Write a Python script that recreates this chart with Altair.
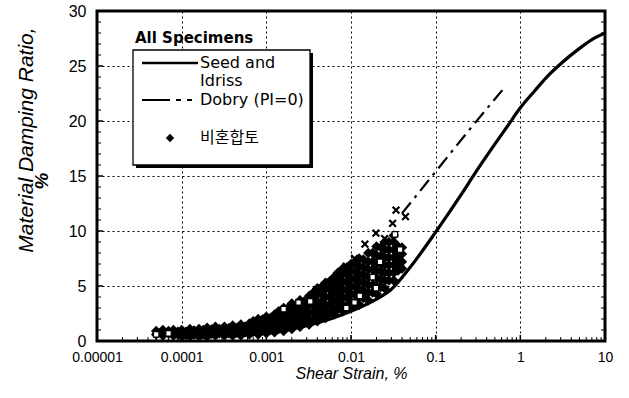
import altair as alt
import pandas as pd

# Seed and Idriss reference curve (shear strain %, damping %)
seed_x = [0.0001, 0.0003, 0.001, 0.003, 0.01, 0.02, 0.03, 0.05, 0.1, 0.2, 0.3, 0.5, 0.7,
          1, 1.5, 2, 3, 5, 7, 10]
seed_y = [0.35, 0.5, 0.8, 1.4, 2.7, 3.8, 4.7, 6.7, 9.9, 13.3, 15.4, 17.9, 19.5,
          21.2, 22.8, 23.9, 25.2, 26.6, 27.4, 28.0]

# Dobry (PI=0) curve
dobry_x = [0.04, 0.1, 0.25, 0.66]
dobry_y = [11.6, 15.4, 19.2, 23.1]

# Test results (filled diamonds): strain column -> damping readings
dia_cols = {
    0.00005: [0.6, 0.9],
    0.000056: [0.75],
    0.00006: [0.5, 0.8, 1.0],
    0.00007: [0.65, 0.9],
    0.00008: [0.5, 0.8, 1.0],
    0.00009: [0.6, 0.85],
    0.0001: [0.4, 0.7, 1.0],
    0.000112: [0.55, 0.85],
    0.000125: [0.4, 0.7, 1.1],
    0.00014: [0.6, 0.95],
    0.00016: [0.4, 0.8, 1.1],
    0.00018: [0.6, 1.0],
    0.0002: [0.4, 0.8, 1.2],
    0.000225: [0.65, 1.05],
    0.00025: [0.5, 0.9, 1.3],
    0.00028: [0.7, 1.1],
    0.00032: [0.5, 0.9, 1.3],
    0.00036: [0.7, 1.15],
    0.0004: [0.5, 0.9, 1.4],
    0.00045: [0.75, 1.2],
    0.0005: [0.5, 1.0, 1.5],
    0.00056: [0.8, 1.3],
    0.00063: [0.6, 1.1, 1.6],
    0.0007: [0.85, 1.35, 1.8],
    0.0008: [0.6, 1.1, 1.6, 2.0],
    0.0009: [0.95, 1.45, 1.95],
    0.001: [0.7, 1.2, 1.7, 2.2],
    0.00112: [1.0, 1.55, 2.1],
    0.00125: [0.8, 1.3, 1.8, 2.4],
    0.0014: [1.1, 1.65, 2.2, 2.7],
    0.0016: [0.9, 1.4, 2.0, 2.6, 3.0],
    0.0018: [1.3, 1.85, 2.4, 3.0],
    0.002: [1.1, 1.6, 2.2, 2.8, 3.4],
    0.00225: [1.5, 2.0, 2.6, 3.2],
    0.0025: [1.3, 1.8, 2.4, 3.0, 3.7],
    0.0028: [1.7, 2.3, 2.9, 3.6],
    0.0032: [1.5, 2.0, 2.6, 3.3, 4.1],
    0.0036: [1.9, 2.6, 3.2, 3.9, 4.4],
    0.004: [1.8, 2.4, 3.0, 3.6, 4.3, 4.8],
    0.0045: [2.2, 2.9, 3.5, 4.2, 4.9],
    0.005: [2.1, 2.7, 3.3, 4.0, 4.7, 5.3],
    0.0056: [2.6, 3.3, 4.0, 4.7, 5.4],
    0.0063: [2.4, 3.0, 3.7, 4.4, 5.1, 5.8],
    0.007: [2.9, 3.6, 4.3, 5.0, 5.7, 6.2],
    0.008: [2.7, 3.3, 4.0, 4.7, 5.4, 6.2, 6.6],
    0.009: [3.2, 3.9, 4.6, 5.3, 6.0, 6.7],
    0.01: [3.0, 3.6, 4.3, 5.0, 5.7, 6.4, 7.0],
    0.0112: [3.5, 4.2, 4.9, 5.6, 6.3, 7.0],
    0.0125: [3.3, 4.0, 4.7, 5.4, 6.1, 6.8, 7.5],
    0.014: [3.9, 4.6, 5.3, 6.0, 6.7, 7.4],
    0.016: [3.7, 4.4, 5.1, 5.8, 6.5, 7.2, 8.0],
    0.018: [4.4, 5.1, 5.8, 6.5, 7.2, 8.0],
    0.02: [4.3, 5.0, 5.7, 6.4, 7.1, 7.8, 8.6],
    0.0225: [4.9, 5.6, 6.3, 7.0, 7.7, 8.5],
    0.025: [4.8, 5.5, 6.2, 6.9, 7.6, 8.3, 9.0],
    0.028: [5.5, 6.2, 6.9, 7.6, 8.3, 9.0],
    0.032: [5.5, 6.2, 6.9, 7.6, 8.3, 9.0, 9.6],
    0.036: [6.4, 7.1, 7.8, 8.6],
    0.04: [6.6, 7.2, 7.9, 8.5],
}

# Upper outliers drawn as crosses
crs_x = [0.0058, 0.0072, 0.0088, 0.011, 0.0146, 0.0197, 0.025, 0.031, 0.034, 0.044]
crs_y = [5.4, 5.7, 6.8, 7.5, 8.8, 9.8, 9.3, 10.7, 11.9, 11.3]

# Open squares
sq_x = [0.00005, 0.00007, 0.0016, 0.0024, 0.0033, 0.0088, 0.011, 0.0127, 0.018, 0.0197, 0.022, 0.033, 0.038]
sq_y = [0.6, 0.7, 2.9, 3.5, 3.6, 3.0, 3.5, 4.1, 5.8, 4.8, 7.2, 9.7, 8.3]

# Axis tick values
x_major = [0.00001, 0.0001, 0.001, 0.01, 0.1, 1, 10]
x_minor = [m * d for d in [0.00001, 0.0001, 0.001, 0.01, 0.1, 1] for m in range(2, 10)]
y_major = [0, 5, 10, 15, 20, 25, 30]
y_minor = [v for v in range(1, 30) if v % 5]

W, H = 508, 330
FONT = "Liberation Sans"
WIDE = "DejaVu Sans"

xs = alt.Scale(type="log", domain=[0.00001, 10])
ys = alt.Scale(domain=[0, 30])

x_axis = alt.Axis(values=x_major, format="~g", title="Shear Strain,  %", grid=True,
                  gridDash=[2, 3], gridColor="#000", gridWidth=1, ticks=False,
                  labelFlush=False, labelFont=FONT, labelFontSize=14, labelColor="#000",
                  labelPadding=9, titleFont=FONT, titleFontSize=16, titleFontStyle="italic",
                  titleFontWeight="normal", titleColor="#000", titlePadding=1,
                  domain=False)
y_axis = alt.Axis(values=y_major, grid=True, gridDash=[2, 3], gridColor="#000",
                  gridWidth=1, ticks=False, labelFont=FONT, labelFontSize=16,
                  labelColor="#000", labelPadding=11, title=None, domain=False)

seed_df = pd.DataFrame({"x": seed_x, "y": seed_y})
dobry_df = pd.DataFrame({"x": dobry_x, "y": dobry_y})
dia_df = pd.DataFrame([{"x": k, "y": v} for k, vals in dia_cols.items() for v in vals])
crs_df = pd.DataFrame({"x": crs_x, "y": crs_y})
sq_df = pd.DataFrame({"x": sq_x, "y": sq_y})

base_grid = alt.Chart(seed_df).mark_point(opacity=0).encode(
    x=alt.X("x:Q", scale=xs, axis=x_axis),
    y=alt.Y("y:Q", scale=ys, axis=y_axis),
)

dia = alt.Chart(dia_df).mark_point(shape="diamond", filled=True, color="#000",
                                   size=110, opacity=1).encode(
    x=alt.X("x:Q", scale=xs), y=alt.Y("y:Q", scale=ys))
crs = alt.Chart(crs_df).mark_point(shape="M-1,-1L1,1M-1,1L1,-1", filled=False,
                                   color="#000", size=45, strokeWidth=2.2, opacity=1).encode(
    x=alt.X("x:Q", scale=xs), y=alt.Y("y:Q", scale=ys))
sq = alt.Chart(sq_df).mark_point(shape="square", filled=True, fill="#fff",
                                 stroke="#000", strokeWidth=1.3, size=30, opacity=1).encode(
    x=alt.X("x:Q", scale=xs), y=alt.Y("y:Q", scale=ys))

seed = alt.Chart(seed_df).mark_line(color="#000", strokeWidth=3.2, interpolate="monotone").encode(
    x=alt.X("x:Q", scale=xs), y=alt.Y("y:Q", scale=ys))
dobry = alt.Chart(dobry_df).mark_line(color="#000", strokeWidth=2.2, strokeDash=[14, 6, 3, 6],
                                      interpolate="monotone").encode(
    x=alt.X("x:Q", scale=xs), y=alt.Y("y:Q", scale=ys))

# inside tick marks on the frame
xt_major = pd.DataFrame({"x": x_major})
xt_minor = pd.DataFrame({"x": x_minor})
yt_major = pd.DataFrame({"y": y_major})
yt_minor = pd.DataFrame({"y": y_minor})
xtick_major = alt.Chart(xt_major).mark_rule(color="#000", strokeWidth=1.5).encode(
    x=alt.X("x:Q", scale=xs), y=alt.value(H), y2=alt.value(H - 6))
xtick_minor = alt.Chart(xt_minor).mark_rule(color="#000", strokeWidth=1).encode(
    x=alt.X("x:Q", scale=xs), y=alt.value(H), y2=alt.value(H - 4))
ytick_major = alt.Chart(yt_major).mark_rule(color="#000", strokeWidth=1.5).encode(
    y=alt.Y("y:Q", scale=ys), x=alt.value(0), x2=alt.value(6))
ytick_minor = alt.Chart(yt_minor).mark_rule(color="#000", strokeWidth=1).encode(
    y=alt.Y("y:Q", scale=ys), x=alt.value(0), x2=alt.value(4))
ytick_minor_r = alt.Chart(yt_minor).mark_rule(color="#000", strokeWidth=1).encode(
    y=alt.Y("y:Q", scale=ys), x=alt.value(W), x2=alt.value(W - 4))

one = pd.DataFrame({"k": [0]})

# heavy plot frame
frame = alt.Chart(one).mark_rect(fill=None, stroke="#000", strokeWidth=3).encode(
    x=alt.value(0), x2=alt.value(W), y=alt.value(0), y2=alt.value(H))

# y-axis title in two lines
ytitle1 = alt.Chart(one).mark_text(text="Material Damping Ratio,", angle=270, font=FONT,
                                   fontSize=21, fontStyle="italic", color="#000").encode(
    x=alt.value(-70), y=alt.value(129))
ytitle2 = alt.Chart(one).mark_text(text="%", angle=270, font=FONT, fontSize=19,
                                   fontStyle="italic", fontWeight="bold", color="#000").encode(
    x=alt.value(-55), y=alt.value(170))

# legend box
shadow = alt.Chart(one).mark_rect(color="#000").encode(
    x=alt.value(39), x2=alt.value(216), y=alt.value(42), y2=alt.value(157))
box = alt.Chart(one).mark_rect(fill="#fff", stroke="#000", strokeWidth=1.3).encode(
    x=alt.value(36), x2=alt.value(213), y=alt.value(39), y2=alt.value(154))
leg_title = alt.Chart(one).mark_text(text="All Specimens", font=WIDE, fontSize=15,
                                     fontWeight="bold", align="left", color="#000").encode(
    x=alt.value(38), y=alt.value(27))
leg_seed = alt.Chart(one).mark_rule(color="#000", strokeWidth=2.5).encode(
    x=alt.value(45), x2=alt.value(101), y=alt.value(52))
leg_dobry = alt.Chart(one).mark_rule(color="#000", strokeWidth=2, strokeDash=[28, 6, 5, 6, 5, 6]).encode(
    x=alt.value(45), x2=alt.value(101), y=alt.value(89))
leg_dia = alt.Chart(one).mark_point(shape="diamond", filled=True, color="#000", size=70,
                                    opacity=1).encode(x=alt.value(73), y=alt.value(127))
leg_lbl = []
for t, yy, f in [("Seed and", 52, WIDE), ("Idriss", 70, WIDE), ("Dobry (PI=0)", 89, WIDE),
                 ("비혼합토", 127, "Noto Sans CJK KR")]:
    leg_lbl.append(alt.Chart(one).mark_text(text=t, font=f, fontSize=16, align="left",
                                            baseline="middle", color="#000").encode(
        x=alt.value(103), y=alt.value(yy)))

chart = alt.layer(
    base_grid, dia, sq, crs, seed, dobry,
    xtick_major, xtick_minor, ytick_major, ytick_minor, ytick_minor_r, frame,
    ytitle1, ytitle2, shadow, box, leg_title, leg_seed, leg_dobry, leg_dia, *leg_lbl,
).properties(
    width=W, height=H, background="#fff",
    autosize=alt.AutoSizeParams(type="none"),
    padding={"left": 97, "top": 11, "right": 24, "bottom": 57},
).configure_view(stroke=None)

chart.save("out.html", embed_options={"renderer": "svg", "actions": False})
